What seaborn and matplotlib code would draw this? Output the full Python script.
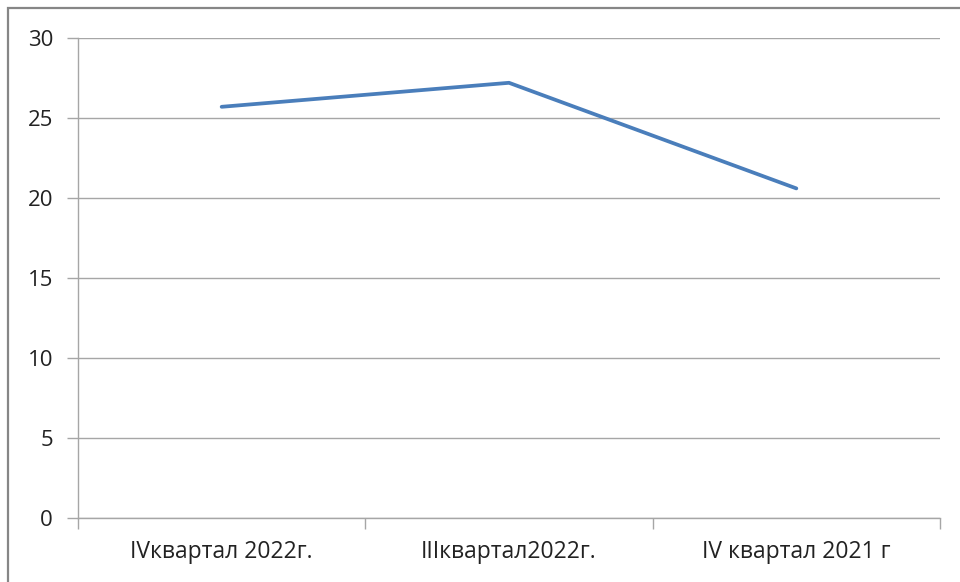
import matplotlib
matplotlib.use('Agg')
import matplotlib.pyplot as plt
import seaborn as sns
import pandas as pd
from matplotlib.patches import Rectangle

# Data
categories = ['IVквартал 2022г.', 'IIIквартал2022г.', 'IV квартал 2021 г']
values = [25.7, 27.2, 20.6]

df = pd.DataFrame({'period': categories, 'value': values})

sns.set_style('white')
plt.rcParams['font.family'] = ['Open Sans', 'DejaVu Sans']

fig = plt.figure(figsize=(9.6, 5.82), dpi=100)
ax = fig.add_axes([78 / 960, 1 - 518 / 582, (940 - 78) / 960, (518 - 38) / 582])

sns.lineplot(data=df, x='period', y='value', ax=ax, color='#4A7EBB', linewidth=2.7,
             sort=False)

grid_color = '#A6A6A6'
ax.set_xlim(-0.5, len(categories) - 0.5)
ax.set_ylim(0, 30)
ax.set_yticks(range(0, 31, 5))
ax.yaxis.grid(True, color=grid_color, linewidth=1)
ax.set_axisbelow(True)

# category labels in the middle, tick marks on the boundaries
ax.set_xticks(range(len(categories)))
ax.set_xticklabels(categories)
ax.set_xticks([i - 0.5 for i in range(len(categories) + 1)], minor=True)
ax.tick_params(axis='x', which='major', bottom=True, length=0, pad=16, labelsize=16.5,
               colors='#222222')
ax.tick_params(axis='x', which='minor', bottom=True, length=8, width=1, color=grid_color,
               direction='out')
ax.tick_params(axis='y', left=True, length=8, width=1, color=grid_color, direction='out',
               pad=10, labelsize=16, labelcolor='#222222')

for side in ['top', 'right']:
    ax.spines[side].set_visible(False)
for side in ['left', 'bottom']:
    ax.spines[side].set_color(grid_color)
    ax.spines[side].set_linewidth(1)

ax.set_xlabel('')
ax.set_ylabel('')

# outer frame of the chart area (cut off at right and bottom)
fig.patches.append(Rectangle((8 / 960, -0.1), 1.2, 1 - 8 / 582 + 0.1,
                             transform=fig.transFigure, fill=False,
                             edgecolor='#868686', linewidth=1.6))

fig.savefig('out.png', dpi=100)
